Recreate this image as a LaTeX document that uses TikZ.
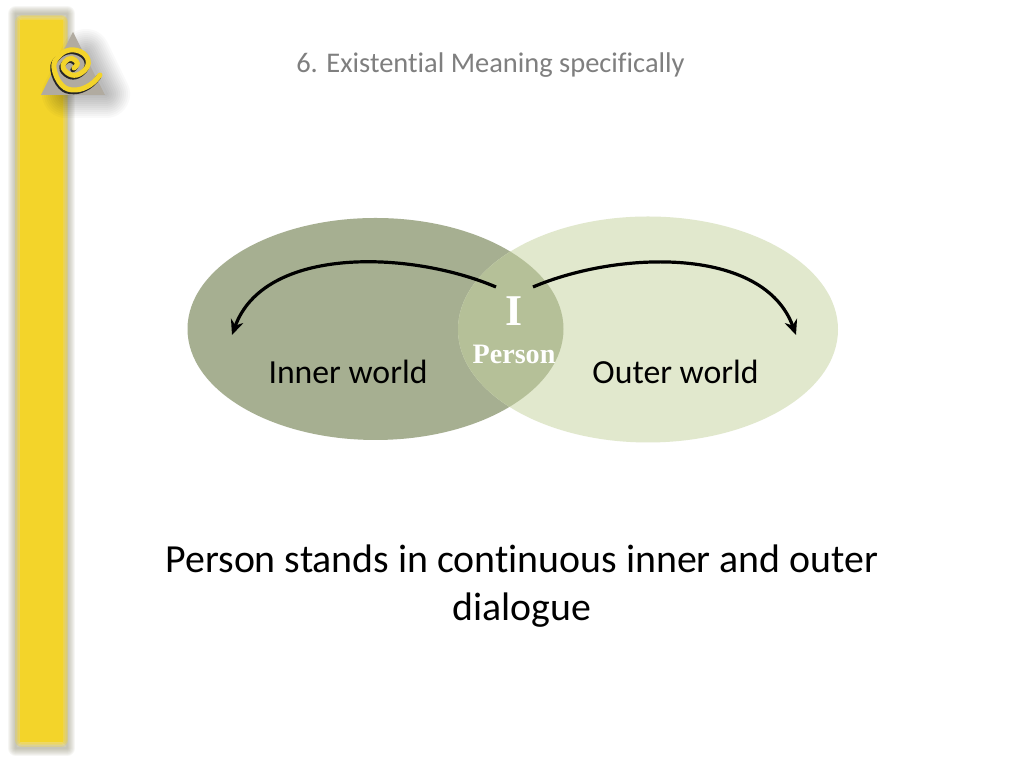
\documentclass[tikz,border=0pt]{standalone}
\usepackage{fontspec}
\setmainfont[Ligatures=NoCommon]{Carlito}
\newfontfamily\serifbold[BoldFont={Liberation Serif Bold}]{Liberation Serif}
\usepackage{tikz}
\usetikzlibrary{arrows.meta,shapes.geometric,positioning}
\definecolor{barYellow}{HTML}{F3D42A}
\definecolor{innerGreen}{HTML}{A6AF91}
\definecolor{outerGreen}{HTML}{E1E8CD}
\definecolor{lensGreen}{HTML}{B5C098}
\definecolor{logoGray}{HTML}{B1ABA0}
\definecolor{titleGray}{HTML}{7F7F7F}
\newcommand{\spiralpath}{(1.0,6.93) (0.90,6.83) (0.75,6.78) (0.617,6.83) (0.54,7.0) (0.583,7.113) (0.70,7.18) (0.833,7.147) (0.883,7.047) (0.817,6.953) (0.717,6.93) (0.633,6.997) (0.65,7.063) (0.717,7.097) (0.773,7.047) (0.74,7.0)}

\begin{document}
\begin{tikzpicture}
        [
            world/.style={ellipse, minimum width=3.76cm, minimum height=2.22cm, inner sep=0pt},
            label/.style={font=\fontsize{9.6pt}{11pt}\selectfont, text=black},
            caption/.style={font=\fontsize{11.33pt}{13.6pt}\selectfont, align=center, text=black},
            dialogue/.style={-{Stealth[length=0.15cm,width=0.13cm]}, line width=0.032cm},
        ]
            \useasboundingbox (0,0) rectangle (10.24,7.68);
            \fill[white] (0,0) rectangle (10.24,7.68);

            % yellow bar with blurred rim
            \foreach \w in {0.02,0.04,...,0.16}
                \draw[gray!80!olive, opacity=0.08, line width=\w cm, line join=round] (0.16,0.2) rectangle (0.67,7.54);
            \foreach \w in {0.02,0.05,...,0.14}
                \draw[barYellow, opacity=0.3, line width=\w cm, line join=round] (0.22,0.28) rectangle (0.61,7.46);
            \fill[barYellow] (0.2,0.26) rectangle (0.63,7.48);

            % logo
            \foreach \w in {0.04,0.08,...,0.52}
                \draw[black, opacity=0.024, line width=\w cm, line join=round] (0.86,7.15) -- (0.66,6.74) -- (1.06,6.74) -- cycle;
            \fill[logoGray] (0.73,7.36) -- (0.41,6.73) -- (1.05,6.73) -- cycle;
            \draw[black!85, line width=0.05cm, line cap=round, xshift=-0.012cm, yshift=-0.018cm] plot[smooth, tension=0.7] coordinates {\spiralpath};
            \draw[barYellow, line width=0.05cm, line cap=round] plot[smooth, tension=0.7] coordinates {\spiralpath};

            \node (title) at (4.905,7.03) [font=\fontsize{8.1pt}{9pt}\selectfont, text=titleGray] {6. Existential Meaning specifically};

            % the two worlds and what they share
            \node[world, fill=innerGreen] (inner) at (3.755,4.39) {};
            \node[world, fill=outerGreen, minimum width=3.8cm, minimum height=2.26cm] (outer) at (6.48,4.385) {};
            \begin{scope}
                \clip (3.755,4.39) ellipse [x radius=1.88, y radius=1.11];
                \fill[lensGreen] (6.48,4.385) ellipse [x radius=1.9, y radius=1.13];
            \end{scope}

            \node[label] (innerlabel) at (3.48,3.96) {Inner world};
            \node[label] (outerlabel) at (6.755,3.96) {Outer world};
            \node[font=\serifbold\bfseries\fontsize{12.5pt}{14pt}\selectfont, text=white] (I) at (5.14,4.57) {I};
            \node[font=\serifbold\bfseries\fontsize{8pt}{9pt}\selectfont, text=white] (P) at (5.14,4.14) {Person};

            \coordinate (innerfrom) at (4.96,4.81);
            \coordinate (innerto) at (2.32,4.33);
            \coordinate (outerfrom) at (5.33,4.81);
            \coordinate (outerto) at (7.96,4.33);

            \draw[dialogue] (innerfrom) to [out=157,in=70,looseness=0.9] (innerto);
            \draw[dialogue] (outerfrom) to [out=23,in=110,looseness=0.9] (outerto);

            \node[caption] (claim) at (5.22,1.82) {Person stands in continuous inner and outer\\dialogue};
        \end{tikzpicture}
\end{document}
